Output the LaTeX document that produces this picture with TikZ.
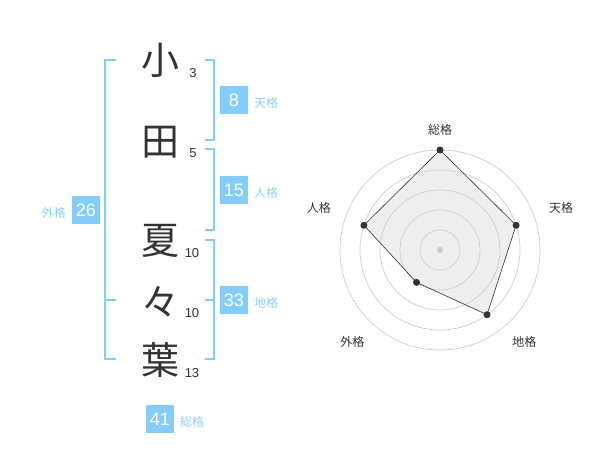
\documentclass[tikz,border=0pt]{standalone}
\usepackage{fontspec}
\setmainfont{Liberation Sans}
\newfontfamily\cjk{Noto Sans CJK JP}
\definecolor{kakublue}{HTML}{84CCFA}
\definecolor{kakutext}{HTML}{8ED0F6}
\definecolor{inkgray}{HTML}{333333}
\definecolor{ringgray}{HTML}{CCCCCC}
\definecolor{areagray}{HTML}{EEEEEE}
\begin{document}
\begin{tikzpicture}[x=1pt, y=-1pt,
  kanji/.style={text=inkgray, font=\cjk\fontsize{38}{38}\selectfont, inner sep=0pt},
  strokes/.style={text=inkgray, font=\fontsize{13}{13}\selectfont, inner sep=0pt},
  kakubox/.style={fill=kakublue, text=white, minimum size=28pt, inner sep=0pt, font=\fontsize{18}{18}\selectfont},
  kakuname/.style={text=kakutext, font=\cjk\fontsize{12}{12}\selectfont, inner sep=0pt},
  bracket/.style={draw=kakublue, line width=2pt},
  ring/.style={draw=ringgray, line width=0.7pt},
  dot/.style={circle, fill=inkgray, inner sep=0pt, minimum size=7pt},
  axisname/.style={text=inkgray, font=\cjk\fontsize{12}{12}\selectfont, inner sep=0pt}]
\useasboundingbox (0,0) rectangle (600,470);
\node[kanji] (ko) at (160,60) {小};
\node[kanji] (ta) at (160,142) {田};
\node[kanji] (natsu) at (160,241) {夏};
\node[kanji] (noma) at (160,302) {々};
\node[kanji] (ha) at (160,360) {葉};
\node[strokes] (s1) at (193,73) {3};
\node[strokes] (s2) at (193,153) {5};
\node[strokes] (s3) at (192,253) {10};
\node[strokes] (s4) at (192,313) {10};
\node[strokes] (s5) at (192,373) {13};
\draw[bracket] (116,60) -- (105,60) -- (105,359) -- (116,359);
\draw[bracket] (105,300) -- (116,300);
\draw[bracket] (205,60) -- (214,60) -- (214,140) -- (205,140);
\draw[bracket] (205,149) -- (214,149) -- (214,230) -- (205,230);
\draw[bracket] (205,240) -- (214,240) -- (214,359) -- (205,359);
\draw[bracket] (205,300) -- (214,300);
\node[kakubox] (ten) at (234,100) {8};
\node[kakuname, anchor=west] at (254,103) {天格};
\node[kakubox] (jin) at (234,190) {15};
\node[kakuname, anchor=west] at (254,193) {人格};
\node[kakubox] (chi) at (234,300) {33};
\node[kakuname, anchor=west] at (254,303) {地格};
\node[kakubox] (gai) at (86,210) {26};
\node[kakuname, anchor=east] at (66,213) {外格};
\node[kakubox] (sou) at (160,419) {41};
\node[kakuname, anchor=west] at (180,422) {総格};
\begin{scope}[shift={(440,250)}]
  \coordinate (psou) at (90:100pt);
  \coordinate (pten) at (18:80pt);
  \coordinate (pchi) at (-54:80pt);
  \coordinate (pgai) at (-126:40pt);
  \coordinate (pjin) at (162:80pt);
  \fill[areagray] (psou) -- (pten) -- (pchi) -- (pgai) -- (pjin) -- cycle;
  \foreach \r in {20,40,60,80,100}
    \draw[ring] (0,0) circle[radius=\r pt];
  \fill[ringgray] (0,0) circle[radius=3pt];
  \draw[inkgray, line width=0.6pt]
    (psou) -- (pten) -- (pchi) -- (pgai) -- (pjin) -- cycle;
  \foreach \p in {psou,pten,pchi,pgai,pjin}
    \node[dot] at (\p) {};
  \node[axisname] (lsou) at (90:120pt) {総格};
  \node[axisname] (lten) at (19:128pt) {天格};
  \node[axisname] (lchi) at (-47.6:125pt) {地格};
  \node[axisname] (lgai) at (-133.7:127pt) {外格};
  \node[axisname] (ljin) at (161:128pt) {人格};
\end{scope}
\end{tikzpicture}
\end{document}
